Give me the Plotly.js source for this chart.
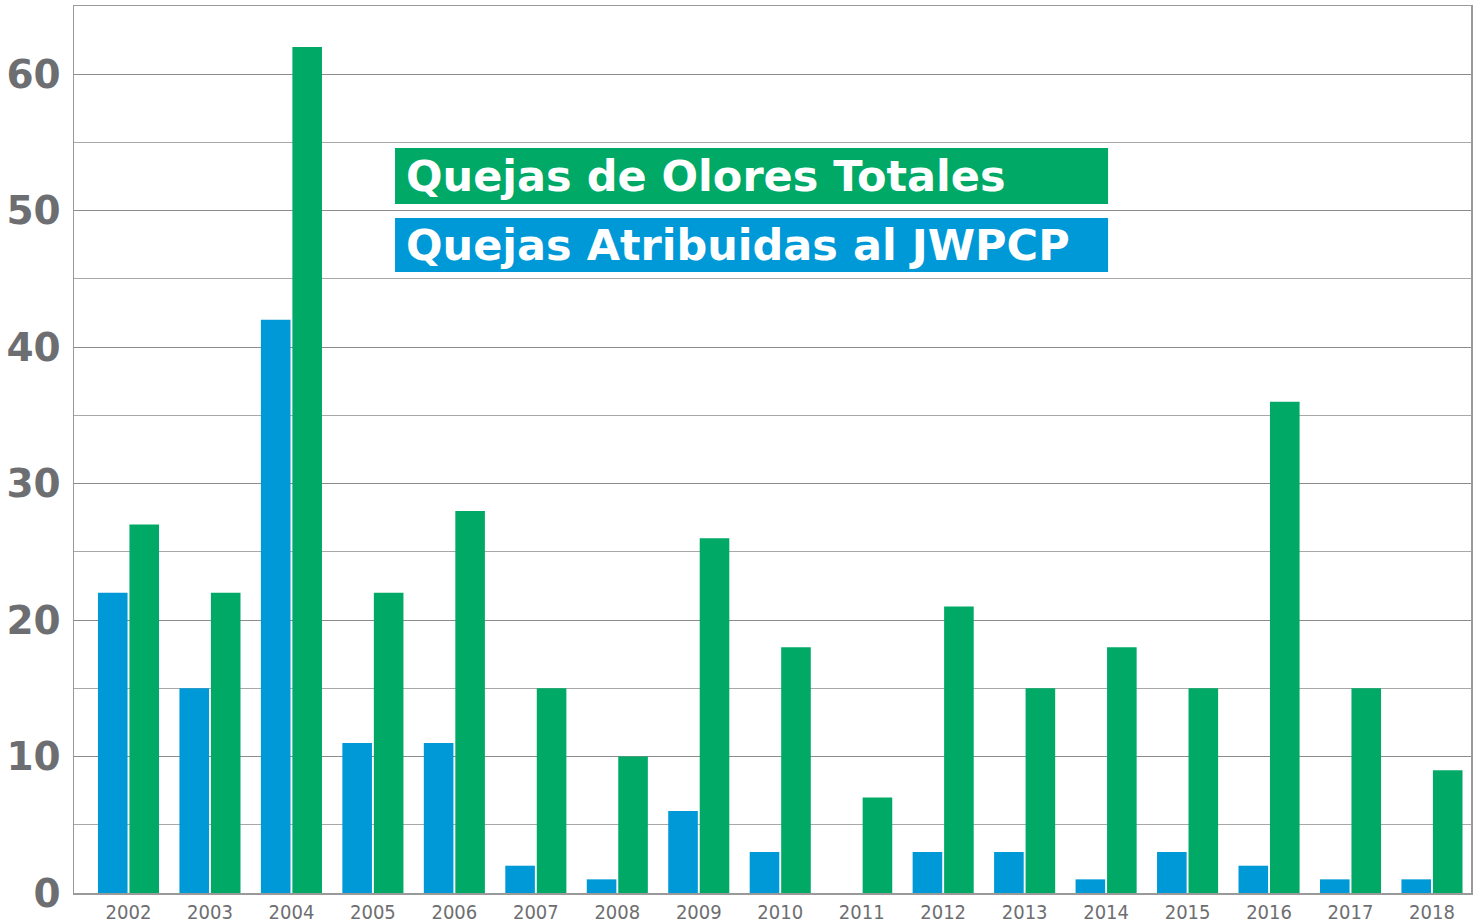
<!DOCTYPE html>
<html>
<head>
<meta charset="utf-8">
<script src="https://cdn.plot.ly/plotly-3.0.1.min.js"></script>
<style>
html,body{margin:0;padding:0;background:#fff;}
#chart{width:1480px;height:922px;}
.xtick text{font-stretch:condensed !important;}
</style>
</head>
<body>
<div id="chart"></div>
<script>
const years = ["2002","2003","2004","2005","2006","2007","2008","2009","2010","2011","2012","2013","2014","2015","2016","2017","2018"];
const atribuidas = [22,15,42,11,11,2,1,6,3,0,3,3,1,3,2,1,1];
const totales = [27,22,62,22,28,15,10,26,18,7,21,15,18,15,36,15,9];
const labelTotales = "Quejas de Olores Totales";
const labelAtribuidas = "Quejas Atribuidas al JWPCP";
const blue = "#0099d8";
const green = "#00aa66";
const gray = "#6d6e71";

const traces = [
  {type:"bar", x:years, y:atribuidas, name:labelAtribuidas, marker:{color:blue}, hoverinfo:"y"},
  {type:"bar", x:years, y:totales, name:labelTotales, marker:{color:green}, hoverinfo:"y"}
];

const layout = {
  width:1480, height:922,
  margin:{l:74, r:9, t:6, b:29},
  paper_bgcolor:"#fff", plot_bgcolor:"#fff",
  showlegend:false,
  barmode:"group", bargap:0.227, bargroupgap:0.06,
  xaxis:{
    type:"category", range:[-0.669, 16.479],
    showgrid:false, showline:true, linecolor:"#9a9a9a", linewidth:1.5, mirror:true,
    ticks:"", ticklabelstandoff:0,
    tickfont:{family:"'DejaVu Sans Condensed','DejaVu Sans',sans-serif", size:20, color:gray}
  },
  yaxis:{
    range:[0,65], tickvals:[0,10,20,30,40,50,60],
    showgrid:true, gridcolor:"#8c8c8c", gridwidth:1,
    minor:{dtick:5, tick0:0, showgrid:true, gridcolor:"#a8a8a8", gridwidth:1, ticks:""},
    showline:true, linecolor:"#9a9a9a", linewidth:1.5, mirror:true, zeroline:false,
    ticks:"", ticklabelstandoff:4,
    tickfont:{family:"'DejaVu Sans',sans-serif", size:39, color:gray, weight:"bold"}
  },
  shapes:[
    {type:"rect", xref:"paper", yref:"paper", x0:0.2298, x1:0.7402, y0:0.7768, y1:0.8399, fillcolor:green, line:{width:0}, layer:"above"},
    {type:"rect", xref:"paper", yref:"paper", x0:0.2298, x1:0.7402, y0:0.7001, y1:0.7610, fillcolor:blue, line:{width:0}, layer:"above"}
  ],
  annotations:[
    {xref:"paper", yref:"paper", x:0.2362, y:0.8083, xanchor:"left", yanchor:"middle", showarrow:false, text:labelTotales,
     font:{family:"'DejaVu Sans',sans-serif", size:43, color:"#fff", weight:"bold"}},
    {xref:"paper", yref:"paper", x:0.2362, y:0.7306, xanchor:"left", yanchor:"middle", showarrow:false, text:labelAtribuidas,
     font:{family:"'DejaVu Sans',sans-serif", size:43, color:"#fff", weight:"bold"}}
  ]
};

Plotly.newPlot("chart", traces, layout, {displayModeBar:false, staticPlot:true});
</script>
</body>
</html>
